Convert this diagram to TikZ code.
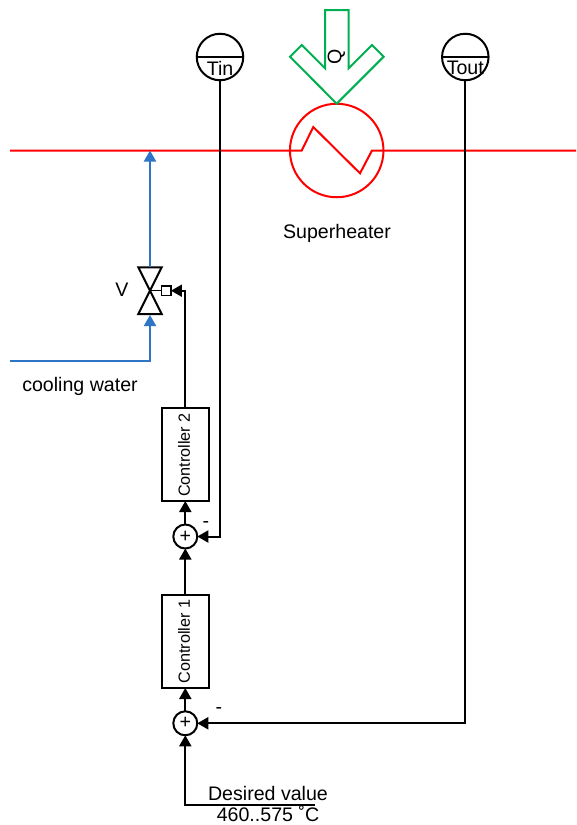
\documentclass[tikz,border=0pt]{standalone}
\usepackage{fontspec}
\setmainfont{Liberation Sans}
\usetikzlibrary{arrows.meta,calc}
\definecolor{heatred}{RGB}{255,0,0}
\definecolor{qgreen}{RGB}{0,176,80}
\definecolor{waterblue}{RGB}{47,117,197}
\tikzset{
  every node/.style={inner sep=0pt,outer sep=0pt},
  lbl/.style={font=\fontsize{19.6}{22}\selectfont,text=black},
  sensor/.style={circle,draw=black,line width=2pt,minimum size=46.5pt},
  sumnode/.style={circle,draw=black,line width=2pt,minimum size=24pt},
  ctrl/.style={rectangle,draw=black,line width=2pt,minimum width=47pt,minimum height=93pt},
  ctrltext/.style={font=\fontsize{16.2}{18}\selectfont,rotate=90},
  sig/.style={draw=black,line width=2pt,-{Triangle[length=11pt,width=12pt]}},
  bluesig/.style={draw=waterblue,line width=2pt,-{Triangle[length=11pt,width=12pt]}},
  redline/.style={draw=heatred,line width=2pt},
  valveshape/.style={draw=black,line width=2pt,line join=miter},
}
\begin{document}
\begin{tikzpicture}[x=1pt,y=-1pt]
\useasboundingbox (0,0) rectangle (576,825);
% free ends
\coordinate (lineL) at (10,150.5);
\coordinate (lineR) at (576,150.5);
\coordinate (zigA) at (301.7,150.5);
\coordinate (zigB) at (313.3,127);
\coordinate (zigC) at (360,173.3);
\coordinate (zigD) at (372,150.5);
\coordinate (waterIn) at (10,361);
\coordinate (valveC) at (150,290.7);
\coordinate (valveTop) at (150,267.3);
\coordinate (valveBot) at (150,315);
\coordinate (desiredEnd) at (315,805.3);
\coordinate (injection) at (150,150.5);
% process line
\draw[redline] (lineL) -- (zigA) -- (zigB) -- (zigC) -- (zigD) -- (lineR);
\node[circle,draw=heatred,line width=2pt,minimum size=93.5pt] (heater) at (336.7,150.5) {};
% heat arrow
\draw[draw=qgreen,line width=2pt,line join=miter]
  (325,10) -- (348.7,10) -- (348.7,68.3) -- (372,45) -- (383.7,56.7) -- (336.7,103.7)
  -- (290,56.7) -- (301.7,45) -- (325,68.3) -- cycle;
\node[lbl,rotate=90] (q) at (336.5,57) {Q};
% sensors
\node[sensor] (tin) at (220,57) {};
\node[sensor] (tout) at (465.3,57) {};
\draw[line width=2pt] (tin.west) -- (tin.east);
\draw[line width=2pt] (tout.west) -- (tout.east);
\node[lbl] (tinT) at (220,68) {Tin};
\node[lbl] (toutT) at (465.3,68) {Tout};
% valve
\draw[valveshape] (138.3,267.3) -- (161.7,267.3) -- (138.3,314) -- (161.7,314) -- cycle;
\node[rectangle,draw=black,line width=1.5pt,minimum size=9.5pt] (actuator) at (166.2,290.7) {};
\draw[line width=1.5pt] (valveC) -- (actuator.west);
\node[lbl] (v) at (122,290) {V};
% blocks
\node[ctrl] (c2) at (185.3,454.5) {};
\node[ctrltext] (c2t) at (184,455) {Controller 2};
\node[ctrl] (c1) at (185.3,641.5) {};
\node[ctrltext] (c1t) at (184,641.5) {Controller 1};
\node[sumnode] (s2) at (185.3,536.5) {};
\node[sumnode] (s1) at (185.3,723.3) {};
\node[lbl] (s2p) at (185.3,536.5) {+};
\node[lbl] (s1p) at (185.3,723.3) {+};
% connectors
\draw[sig] (s1) -- (s1 |- c1.south);
\draw[sig] (c1.north) -- (s2.south);
\draw[sig] (s2) -- (s2 |- c2.south);
\draw[sig] (c2.north) -- (c2.north |- actuator) -- (actuator.east);
\draw[sig] (tin.south) -- (tin.south |- s2) -- (s2.east);
\draw[sig] (tout.south) -- (tout.south |- s1) -- (s1.east);
\draw[sig] (desiredEnd) -- (s1 |- desiredEnd) -- (s1.south);
\draw[bluesig] (waterIn) -- (waterIn -| valveBot) -- (valveBot);
\draw[bluesig] (valveTop) -- (injection);
% labels
\node[lbl] (superT) at (337,233.5) {Superheater};
\node[lbl] (waterT) at (80,386) {cooling water};
\node[lbl] (desT) at (268,793) {Desired value};
\node[lbl,anchor=base] (valT) at (268,821) {460..575 ˚C};
\node[lbl] (m2) at (206,525) {-};
\node[lbl] (m1) at (219,711) {-};
\end{tikzpicture}
\end{document}
